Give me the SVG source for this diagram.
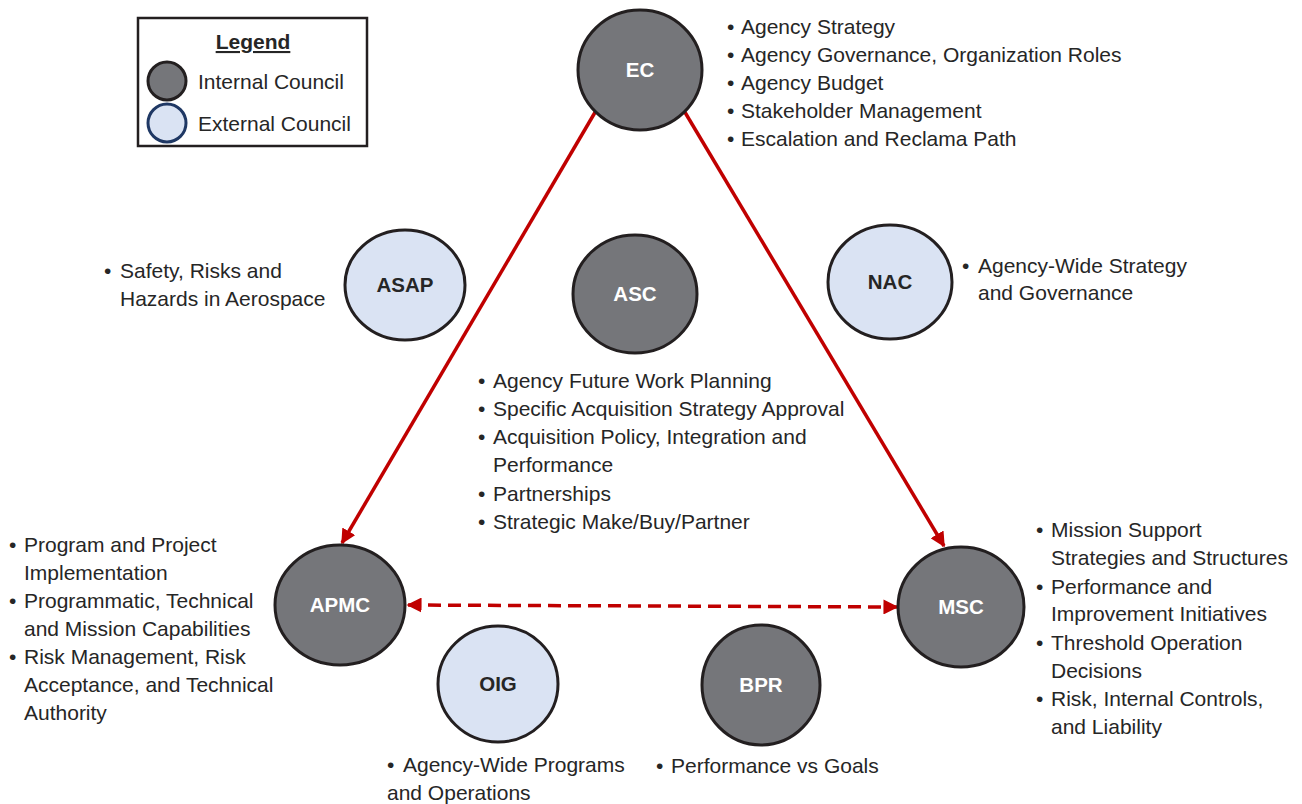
<svg xmlns="http://www.w3.org/2000/svg" width="1302" height="804" viewBox="0 0 1302 804">
<style>
.int{fill:#75767a;stroke:#231f20;stroke-width:3}
.ext{fill:#dae3f3;stroke:#231f20;stroke-width:3}
.lw{font-family:"Liberation Sans",Arial,sans-serif;font-weight:bold;font-size:20.5px;fill:#ffffff;text-anchor:middle}
.ld{font-family:"Liberation Sans",Arial,sans-serif;font-weight:bold;font-size:20.5px;fill:#262626;text-anchor:middle}
.t{font-family:"Liberation Sans",Arial,sans-serif;font-size:21px;fill:#262626}
.ar{stroke:#c00000;stroke-width:3.5;fill:none}
</style>
<defs>
<marker id="ah" viewBox="0 0 10 10" refX="9" refY="5" markerWidth="4.3" markerHeight="4.3" orient="auto-start-reverse" markerUnits="strokeWidth">
<path d="M0,0 L10,5 L0,10 z" fill="#c00000"/>
</marker>
</defs>
<rect width="1302" height="804" fill="#ffffff"/>
<g id="legend">
<rect x="138" y="18" width="229" height="128" fill="#ffffff" stroke="#231f20" stroke-width="2.5"/>
<text x="253" y="49" class="t" font-weight="bold" text-anchor="middle" text-decoration="underline">Legend</text>
<ellipse cx="167" cy="81" rx="19" ry="19" class="int"/>
<text x="198" y="89" class="t">Internal Council</text>
<ellipse cx="167" cy="123" rx="19" ry="19" fill="#dae3f3" stroke="#1f3864" stroke-width="3"/>
<text x="198" y="131" class="t">External Council</text>
</g>
<g id="connectors">
<line x1="597" y1="109" x2="342" y2="543" class="ar" marker-end="url(#ah)"/>
<line x1="683" y1="109" x2="944" y2="546" class="ar" marker-end="url(#ah)"/>
<line x1="408" y1="605" x2="897" y2="607" class="ar" stroke-width="4" stroke-dasharray="13,7" marker-start="url(#ah)" marker-end="url(#ah)"/>
</g>
<g id="EC">
<ellipse cx="640" cy="70" rx="62" ry="60" class="int"/>
<text x="640" y="77" class="lw">EC</text>
<text class="t"><tspan x="727" y="34">•</tspan><tspan x="741" y="34">Agency Strategy</tspan><tspan x="727" y="62">•</tspan><tspan x="741" y="62">Agency Governance, Organization Roles</tspan><tspan x="727" y="90">•</tspan><tspan x="741" y="90">Agency Budget</tspan><tspan x="727" y="118">•</tspan><tspan x="741" y="118">Stakeholder Management</tspan><tspan x="727" y="146">•</tspan><tspan x="741" y="146">Escalation and Reclama Path</tspan></text>
</g>
<g id="ASAP">
<ellipse cx="405" cy="285" rx="60" ry="55" class="ext"/>
<text x="405" y="292" class="ld">ASAP</text>
<text class="t"><tspan x="104" y="278">•</tspan><tspan x="120" y="278">Safety, Risks and</tspan><tspan x="120" y="306">Hazards in Aerospace</tspan></text>
</g>
<g id="ASC">
<ellipse cx="635" cy="294" rx="62" ry="59" class="int"/>
<text x="635" y="301" class="lw">ASC</text>
<text class="t"><tspan x="478" y="388">•</tspan><tspan x="493" y="388">Agency Future Work Planning</tspan><tspan x="478" y="416">•</tspan><tspan x="493" y="416">Specific Acquisition Strategy Approval</tspan><tspan x="478" y="444">•</tspan><tspan x="493" y="444">Acquisition Policy, Integration and</tspan><tspan x="493" y="472">Performance</tspan><tspan x="478" y="501">•</tspan><tspan x="493" y="501">Partnerships</tspan><tspan x="478" y="529">•</tspan><tspan x="493" y="529">Strategic Make/Buy/Partner</tspan></text>
</g>
<g id="NAC">
<ellipse cx="890" cy="282" rx="62" ry="57" class="ext"/>
<text x="890" y="289" class="ld">NAC</text>
<text class="t"><tspan x="962" y="273">•</tspan><tspan x="978" y="273">Agency-Wide Strategy</tspan><tspan x="978" y="300">and Governance</tspan></text>
</g>
<g id="APMC">
<ellipse cx="340" cy="605" rx="65" ry="60" class="int"/>
<text x="340" y="612" class="lw">APMC</text>
<text class="t"><tspan x="9" y="552">•</tspan><tspan x="24" y="552">Program and Project</tspan><tspan x="24" y="580">Implementation</tspan><tspan x="9" y="608">•</tspan><tspan x="24" y="608">Programmatic, Technical</tspan><tspan x="24" y="636">and Mission Capabilities</tspan><tspan x="9" y="664">•</tspan><tspan x="24" y="664">Risk Management, Risk</tspan><tspan x="24" y="692">Acceptance, and Technical</tspan><tspan x="24" y="720">Authority</tspan></text>
</g>
<g id="MSC">
<ellipse cx="961" cy="607" rx="63" ry="60" class="int"/>
<text x="961" y="614" class="lw">MSC</text>
<text class="t"><tspan x="1036" y="537">•</tspan><tspan x="1051" y="537">Mission Support</tspan><tspan x="1051" y="565">Strategies and Structures</tspan><tspan x="1036" y="594">•</tspan><tspan x="1051" y="594">Performance and</tspan><tspan x="1051" y="621">Improvement Initiatives</tspan><tspan x="1036" y="650">•</tspan><tspan x="1051" y="650">Threshold Operation</tspan><tspan x="1051" y="678">Decisions</tspan><tspan x="1036" y="706">•</tspan><tspan x="1051" y="706">Risk, Internal Controls,</tspan><tspan x="1051" y="734">and Liability</tspan></text>
</g>
<g id="OIG">
<ellipse cx="498" cy="684" rx="60" ry="58" class="ext"/>
<text x="498" y="691" class="ld">OIG</text>
<text class="t"><tspan x="387" y="772">•</tspan><tspan x="403" y="772">Agency-Wide Programs</tspan><tspan x="387" y="800">and Operations</tspan></text>
</g>
<g id="BPR">
<ellipse cx="761" cy="685" rx="59" ry="60" class="int"/>
<text x="761" y="692" class="lw">BPR</text>
<text class="t"><tspan x="656" y="773">•</tspan><tspan x="671" y="773">Performance vs Goals</tspan></text>
</g>
</svg>
